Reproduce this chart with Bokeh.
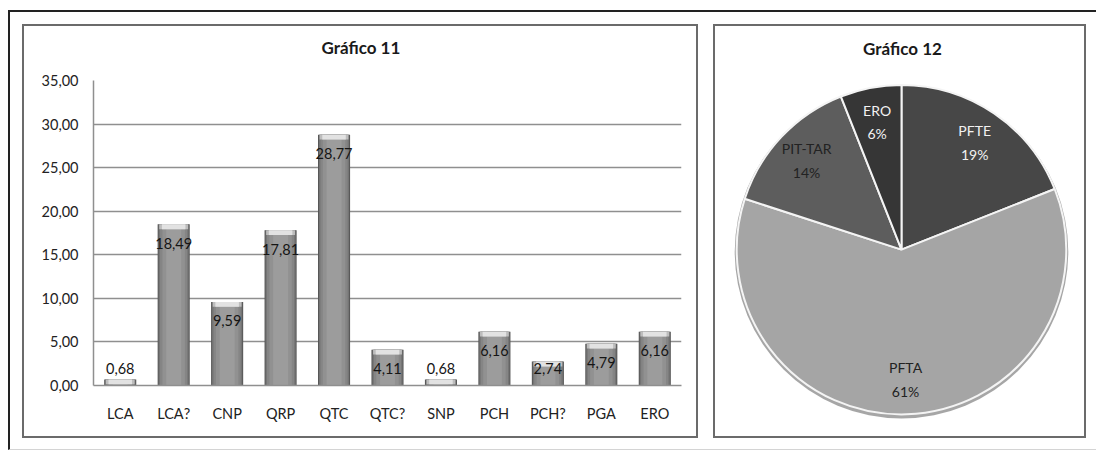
import math
from bokeh.plotting import figure
from bokeh.layouts import row
from bokeh.models import ColumnDataSource, CustomJSTickFormatter, FixedTicker, Range1d, Title
from bokeh.core.properties import value
from bokeh.embed import file_html
from bokeh.resources import INLINE

# ---- data ----
categories = ["LCA", "LCA?", "CNP", "QRP", "QTC", "QTC?", "SNP", "PCH", "PCH?", "PGA", "ERO"]
values = [0.68, 18.49, 9.59, 17.81, 28.77, 4.11, 0.68, 6.16, 2.74, 4.79, 6.16]
y_ticks = [0, 5, 10, 15, 20, 25, 30, 35]
bar_title = "Gráfico 11"

pie_labels = ["PFTE", "PFTA", "PIT-TAR", "ERO"]
pie_values = [19, 61, 14, 6]
pie_colors = ["#474747", "#a5a5a5", "#5d5d5d", "#363636"]
pie_text_colors = ["#f2f2f2", "#222222", "#222222", "#f2f2f2"]
pie_title = "Gráfico 12"

FONT = "Lato"

# ---- bar chart ----
bar = figure(x_range=categories, y_range=Range1d(0, 35), width=676, height=414,
             output_backend="svg", toolbar_location=None,
             min_border_left=69, min_border_right=19, min_border_top=54, min_border_bottom=55,
             margin=(12, 15, 11, 12), styles={"border": "2px solid #6b6b6b"})
bar.frame_align = False
bar.outline_line_color = None
bar.title.text = bar_title
bar.title.align = "left"
bar.title.offset = 228
bar.title.standoff = 0
bar.title.text_font = FONT
bar.title.text_font_size = "17px"
bar.title.text_font_style = "bold"
bar.title.text_color = "#1a1a1a"
# empty spacer between the title and the plot area
bar.add_layout(Title(text=" ", text_font_size="1px", standoff=20), "above")

bar.xgrid.grid_line_color = None
bar.ygrid.ticker = FixedTicker(ticks=y_ticks)
bar.ygrid.grid_line_color = "#8f8f8f"
bar.ygrid.grid_line_width = 1.5

bar.yaxis.ticker = FixedTicker(ticks=y_ticks)
bar.yaxis.formatter = CustomJSTickFormatter(code="return tick.toFixed(2).replace('.', ',');")
for ax in (bar.xaxis, bar.yaxis):
    ax.major_tick_line_color = None
    ax.minor_tick_line_color = None
    ax.axis_line_color = "#8f8f8f"
    ax.axis_line_width = 1.5
    ax.major_label_text_font = FONT
    ax.major_label_text_font_size = "14.5px"
    ax.major_label_text_color = "#222222"
bar.yaxis.major_label_standoff = 9
bar.xaxis.major_label_standoff = 13

src = ColumnDataSource(dict(cat=categories, val=values,
                            cap=[max(v - 0.55, 0) for v in values],
                            lab=[f"{v:.2f}".replace(".", ",") for v in values],
                            laby=[max(v - 2.18, 1.95) for v in values]))
# cylinder-like shading by layered bars
shades = [(0.60, "#555555"), (0.565, "#747474"), (0.51, "#858585"), (0.42, "#919191"), (0.28, "#9c9c9c")]
for w, c in shades:
    bar.vbar(x="cat", top="val", bottom=0, width=w, source=src, fill_color=c, line_color=None)
bar.vbar(x="cat", top="val", bottom="cap", width=0.54, source=src, fill_color="#bdbdbd", line_color=None)
bar.vbar(x="cat", top="val", bottom="cap", width=0.44, source=src, fill_color="#e2e2e2", line_color=None)
bar.text(x="cat", y="laby", text="lab", source=src, text_align="center", text_baseline="middle",
         text_font=value(FONT), text_font_size="14.5px", text_color="#151515")

# ---- pie chart ----
PW, PH = 373, 414
pie = figure(width=PW, height=PH, x_range=Range1d(0, PW - 4), y_range=Range1d(0, PH - 4),
             output_backend="svg", toolbar_location=None, min_border=0,
             margin=(12, 10, 11, 0), styles={"border": "2px solid #6b6b6b"})
pie.frame_align = False
pie.axis.visible = False
pie.grid.visible = False
pie.outline_line_color = None

H = PH - 4
cx, cy, R = 184, H - 221, 163
total = float(sum(pie_values))
starts, ends, lx, ly = [], [], [], []
cum = 0.0
for v in pie_values:
    a0 = cum / total * 2 * math.pi
    cum += v
    a1 = cum / total * 2 * math.pi
    starts.append(math.pi / 2 - a0)
    ends.append(math.pi / 2 - a1)
    mid = (a0 + a1) / 2
    lx.append(cx + 0.79 * R * math.sin(mid))
    ly.append(cy + 0.79 * R * math.cos(mid))

psrc = ColumnDataSource(dict(lbl=pie_labels, start=starts, end=ends, color=pie_colors,
                             tcol=pie_text_colors, lx=lx, ly=ly,
                             txt=[f"{l}\n{round(v / total * 100)}%" for l, v in zip(pie_labels, pie_values)]))
pie.circle(x=[cx], y=[cy - 2], radius=R + 2, fill_color="#6a6a6a", line_color=None, fill_alpha=0.6)
pie.wedge(x=cx, y=cy, radius=R, start_angle="start", end_angle="end", direction="clock",
          fill_color="color", line_color="#f4f4f4", line_width=2, source=psrc)
pie.text(x="lx", y="ly", text="txt", source=psrc, text_align="center", text_baseline="middle",
         text_font=value(FONT), text_font_size="14px", text_color="tcol", text_line_height=1.4)
pie.text(x=[cx + 1], y=[H - 22], text=[pie_title], text_align="center", text_baseline="middle",
         text_font=value(FONT), text_font_size="17px", text_font_style="bold", text_color="#1a1a1a")

layout = row(bar, pie, margin=(10, 0, 0, 8),
             styles={"border-top": "2px solid #222222", "border-left": "2px solid #222222",
                     "border-bottom": "1px solid #d4d4d4"})

open("out.html", "w").write(file_html(layout, INLINE))
